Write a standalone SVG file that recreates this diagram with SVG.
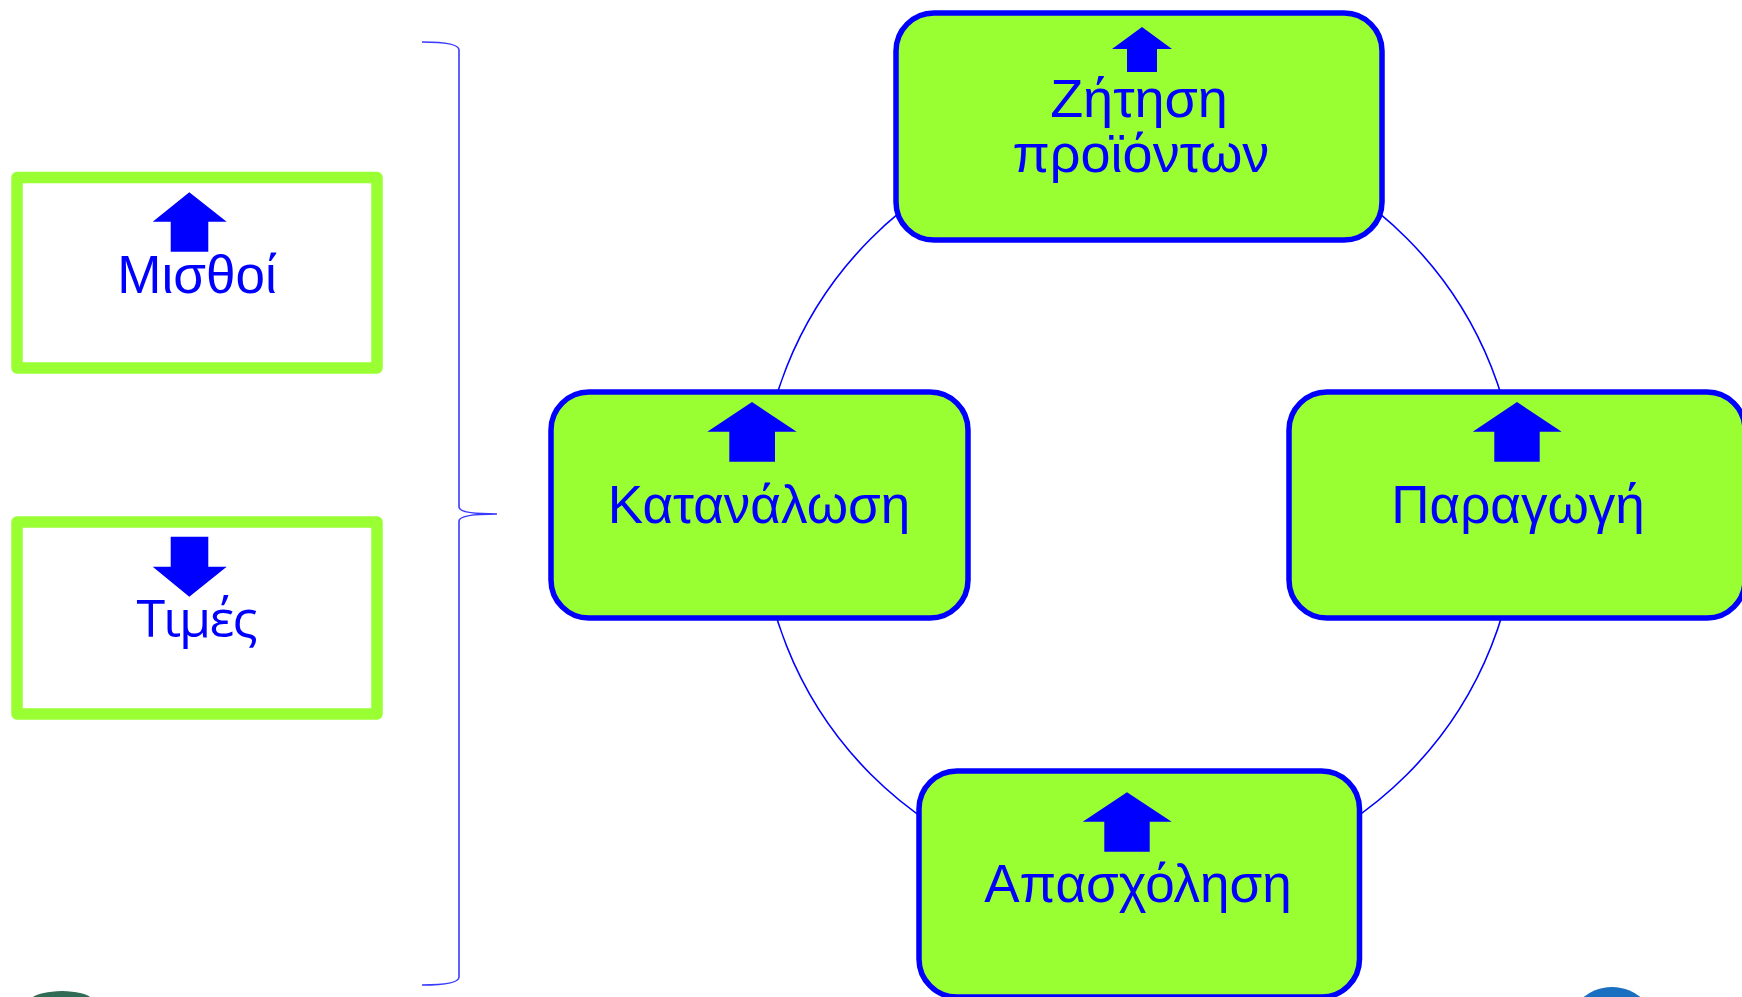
<svg xmlns="http://www.w3.org/2000/svg" width="1742" height="997" viewBox="0 0 1742 997">
<style>
.node{fill:#99FF33;stroke:#0000FF;stroke-width:5.5}
.side{fill:#FFFFFF;stroke:#99FF33;stroke-width:11.5;stroke-linejoin:round}
.arw{fill:#0000FF}
.lbl{font-family:"Liberation Sans",Arial,sans-serif;fill:#0000FF;text-anchor:middle}
.conn{fill:none;stroke:#0000FF;stroke-width:1.6}
.brace{fill:none;stroke:#3a3aff;stroke-width:1.6}
</style>
<rect width="1742" height="997" fill="#FFFFFF"/>
<g id="connectors">
<path class="conn" d="M1139,127.5 A379,379 0 0 1 1518,506.5"/>
<path class="conn" d="M1518,506.5 A379,379 0 0 1 1139,885.5"/>
<path class="conn" d="M1139,885.5 A379,379 0 0 1 760,506.5"/>
<path class="conn" d="M760,506.5 A379,379 0 0 1 1139,127.5"/>
</g>
<g id="brace">
<path class="brace" d="M422,42 Q459,42 459,50 L459,507 Q459,514 497,514 Q459,514 459,521 L459,977 Q459,985 422,985"/>
</g>
<g id="node-misthoi">
<rect class="side" x="17" y="177.5" width="360" height="190.5"/>
<polygon class="arw" points="189.3,192.3 226.7,221.7 208.3,221.7 208.3,251.7 170.7,251.7 170.7,221.7 152.7,221.7"/>
<text class="lbl" x="197" y="292.7" font-size="53">Μισθοί</text>
</g>
<g id="node-times">
<rect class="side" x="17" y="522" width="360" height="192"/>
<polygon class="arw" points="170.7,536.7 208.3,536.7 208.3,566.7 226.7,566.7 189.3,596.7 152.7,566.7 170.7,566.7"/>
<text x="197" y="637.3" font-size="52" font-family="'Open Sans','Noto Sans',sans-serif" fill="#0000FF" text-anchor="middle" textLength="121">Τιμές</text>
</g>
<g id="node-zitisi">
<rect class="node" x="896" y="13" width="486" height="227" rx="38"/>
<polygon class="arw" points="1142,27 1172,49 1157,49 1157,72 1127,72 1127,49 1112,49"/>
<text class="lbl" x="1139" y="116.7" font-size="54">Ζήτηση</text>
<text class="lbl" x="1141" y="172" font-size="54">προϊόντων</text>
</g>
<g id="node-katanalosi">
<rect class="node" x="551" y="392" width="417" height="226" rx="38"/>
<polygon class="arw" points="752,402 796.7,431.7 775,431.7 775,461.7 729.3,461.7 729.3,431.7 707.3,431.7"/>
<text class="lbl" x="759" y="522.7" font-size="53">Κατανάλωση</text>
</g>
<g id="node-paragogi">
<rect class="node" x="1289" y="392" width="456" height="226" rx="38"/>
<polygon class="arw" points="1517,402 1561.7,431.7 1539.7,431.7 1539.7,461.7 1494.3,461.7 1494.3,431.7 1472.7,431.7"/>
<text class="lbl" x="1518" y="522.7" font-size="53">Παραγωγή</text>
</g>
<g id="node-apasxolisi">
<rect class="node" x="919" y="771" width="440.5" height="226" rx="38"/>
<polygon class="arw" points="1127,792.3 1171.7,821.7 1149.7,821.7 1149.7,851.7 1104.3,851.7 1104.3,821.7 1082.7,821.7"/>
<text class="lbl" x="1138" y="901.7" font-size="53">Απασχόληση</text>
</g>
<g id="logos">
<ellipse cx="1612" cy="1034" rx="46" ry="47" fill="#1a6fc0"/>
<path d="M33,997 Q40,992 62,991 Q84,992 90,997 Z" fill="#2f6b55"/>
</g>
</svg>
